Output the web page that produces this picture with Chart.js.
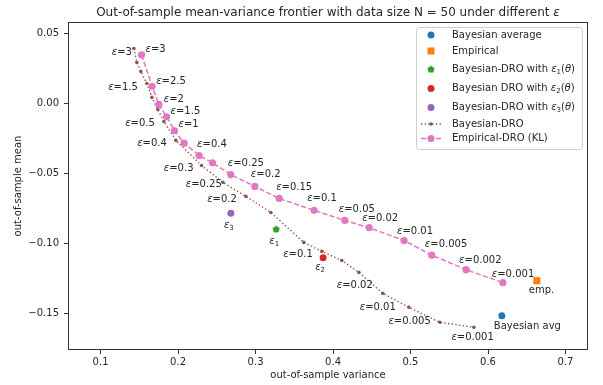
<!DOCTYPE html>
<html>
<head>
<meta charset="utf-8">
<script src="https://cdn.jsdelivr.net/npm/chart.js@4.4.1/dist/chart.umd.min.js"></script>
<style>
  body { margin: 0; background: #fff; }
  #wrap { width: 603px; height: 385px; }
</style>
</head>
<body>
<div id="wrap"><canvas id="myChart" width="603" height="385"></canvas></div>
<script>
// ---- data ----
var xTicks = [0.1, 0.2, 0.3, 0.4, 0.5, 0.6, 0.7];
var yTicks = [-0.15, -0.10, -0.05, 0.00, 0.05];

// Bayesian-DRO curve
var bdroVar = [0.1430, 0.1468, 0.1520, 0.1597, 0.1662, 0.1739, 0.1817, 0.1972, 0.2303, 0.2578,
               0.2875, 0.3197, 0.3623, 0.3856, 0.4113, 0.4333, 0.4642, 0.4978, 0.5378, 0.5817];
var bdroMean = [0.0391, 0.0291, 0.0226, 0.0141, 0.0041, -0.0045, -0.0131, -0.0266, -0.0445, -0.0566,
                -0.0666, -0.0781, -0.0995, -0.1059, -0.1124, -0.1209, -0.1359, -0.1459, -0.1566, -0.1602];
var bdroEps = ['3', null, null, '1.5', null, null, '0.5', '0.4', '0.3', '0.25',
               '0.2', null, null, '0.1', null, null, '0.02', '0.01', '0.005', '0.001'];

// Empirical-DRO (KL) curve
var edroVar = [0.1529, 0.1666, 0.1752, 0.1852, 0.1955, 0.2079, 0.2272, 0.2445, 0.2681,
               0.2991, 0.3305, 0.3756, 0.4152, 0.4466, 0.4916, 0.5275, 0.5717, 0.6191];
var edroMean = [0.0346, 0.0121, -0.0009, -0.0097, -0.0197, -0.0286, -0.0374, -0.0426, -0.0511,
                -0.0595, -0.0681, -0.0766, -0.0838, -0.0890, -0.0982, -0.1086, -0.1190, -0.1283];
var edroEps = ['3', '2.5', '2', '1.5', '1', null, '0.4', null, '0.25',
               '0.2', '0.15', '0.1', '0.05', '0.02', '0.01', '0.005', '0.002', '0.001'];

// single points
var pointNames = ['Bayesian average', 'Empirical', 'Bayesian-DRO with ε_1(θ)',
                  'Bayesian DRO with ε_2(θ)', 'Bayesian-DRO with ε_3(θ)'];
var pointVar = [0.6178, 0.6630, 0.3266, 0.3872, 0.2681];
var pointMean = [-0.1519, -0.1269, -0.0902, -0.1104, -0.0786];
var pointTags = ['Bayesian avg', 'emp.', 'ε_1', 'ε_2', 'ε_3'];

// ---- layout of the annotations (pixel offsets from the point) ----
var bdroTagPos = [[-2, 3.5], null, null, [-9, 3.5], null, null, [-9, 2], [-9, 3], [-8, 3], [-1, 2],
                  [-9, 3], null, null, [-9, 3], null, null, [-10, -8], [-13, 0], [-9, -1], [20, 10]];
var edroTagPos = [[4, -5], [4, -5], [5, -5], [4, -5], [4, -6], null, [-2, -11], null, [-3, -11],
                  [-4, -12], [-3, -11], [-7, -12], [-6, -11], [-7, -9], [-7, -9], [-7, -11], [-7, -9], [-11, -8]];
var pointTagPos = [[-8, 11], [-8, 10], [-2, 12], [-3, 10], [-2, 12]];
var pointTagAlign = ['left', 'left', 'center', 'center', 'center'];

var FONT = '"DejaVu Sans", sans-serif';
var TEXT = '#262626';
var colors = ['#1f77b4', '#ff7f0e', '#2ca02c', '#d62728', '#9467bd'];

function pentagon(r, color) {
  var s = Math.ceil(r * 2 + 2);
  var c = document.createElement('canvas');
  c.width = s; c.height = s;
  var g = c.getContext('2d');
  g.fillStyle = color;
  g.beginPath();
  for (var k = 0; k < 5; k++) {
    var a = -Math.PI / 2 + k * 2 * Math.PI / 5;
    g.lineTo(s / 2 + r * Math.cos(a), s / 2 + r * Math.sin(a));
  }
  g.closePath();
  g.fill();
  return c;
}
var styles = ['circle', 'rect', pentagon(3.8, colors[2]), 'circle', 'circle'];
var radii = [3.5, 5, 4, 3.5, 3.5];

// rich text: ε θ italic, _x subscript
function parseRich(s) {
  var segs = [];
  for (var i = 0; i < s.length; i++) {
    var ch = s[i], st = 'n';
    if (ch === '_') { ch = s[++i]; st = 's'; }
    else if (ch === 'ε' || ch === 'θ') st = 'i';
    var last = segs[segs.length - 1];
    if (last && last.st === st) last.t += ch; else segs.push({ t: ch, st: st });
  }
  return segs;
}
function segFont(st, size) {
  if (st === 'i') return 'italic ' + size + 'px ' + FONT;
  if (st === 's') return (size * 0.7).toFixed(1) + 'px ' + FONT;
  return size + 'px ' + FONT;
}
function drawRich(ctx, s, x, y, align, size, rot) {
  var segs = parseRich(s), w = 0;
  ctx.save();
  ctx.translate(x, y);
  if (rot) ctx.rotate(rot);
  ctx.textBaseline = 'middle';
  ctx.textAlign = 'left';
  ctx.fillStyle = TEXT;
  segs.forEach(function (g) { ctx.font = segFont(g.st, size); g.w = ctx.measureText(g.t).width; w += g.w; });
  var cx = align === 'right' ? -w : align === 'center' ? -w / 2 : 0;
  segs.forEach(function (g) {
    ctx.font = segFont(g.st, size);
    ctx.fillText(g.t, cx, g.st === 's' ? size * 0.28 : 0);
    cx += g.w;
  });
  ctx.restore();
}

var datasets = pointNames.map(function (name, i) {
  return {
    label: name,
    data: [{ x: pointVar[i], y: pointMean[i] }],
    backgroundColor: colors[i],
    borderColor: colors[i],
    pointStyle: styles[i],
    pointRadius: radii[i],
    pointBorderWidth: 0,
    tags: [pointTags[i]],
    tagPos: [pointTagPos[i]],
    tagAlign: pointTagAlign[i]
  };
});
datasets.push({
  label: 'Empirical-DRO (KL)',
  data: edroVar.map(function (v, i) { return { x: v, y: edroMean[i] }; }),
  showLine: true,
  borderColor: '#e377c2',
  backgroundColor: '#e377c2',
  borderWidth: 1.5,
  borderDash: [5.2, 2.3],
  pointRadius: 3.6,
  pointBorderWidth: 0,
  tags: edroEps.map(function (e) { return e && 'ε=' + e; }),
  tagPos: edroTagPos,
  tagAlign: 'left'
});
datasets.push({
  label: 'Bayesian-DRO',
  data: bdroVar.map(function (v, i) { return { x: v, y: bdroMean[i] }; }),
  showLine: true,
  borderColor: '#8c564b',
  backgroundColor: '#8c564b',
  borderWidth: 1.4,
  borderDash: [1.4, 2.3],
  pointRadius: 1.8,
  pointBorderWidth: 0,
  tags: bdroEps.map(function (e) { return e && 'ε=' + e; }),
  tagPos: bdroTagPos,
  tagAlign: 'right'
});

var legendOrder = [0, 1, 2, 3, 4, 6, 5];
var legendRows = [35, 51, 69.5, 88.5, 107.5, 124, 138.5];

var decorations = {
  id: 'decorations',
  afterDatasetsDraw: function (chart) {
    var ctx = chart.ctx;
    chart.data.datasets.forEach(function (ds, i) {
      var meta = chart.getDatasetMeta(i);
      ds.tags.forEach(function (t, j) {
        if (!t) return;
        var el = meta.data[j], off = ds.tagPos[j];
        drawRich(ctx, t, el.x + off[0], el.y + off[1], ds.tagAlign, 10);
      });
    });
  },
  afterDraw: function (chart) {
    var ctx = chart.ctx, a = chart.chartArea;
    // frame
    ctx.save();
    ctx.strokeStyle = '#333';
    ctx.lineWidth = 1;
    ctx.strokeRect(Math.round(a.left) + 0.5, Math.round(a.top) + 0.5,
                   Math.round(a.right - a.left) - 1, Math.round(a.bottom - a.top) - 1);
    ctx.restore();

    var cx = (a.left + a.right) / 2, cy = (a.top + a.bottom) / 2;
    drawRich(ctx, 'Out-of-sample mean-variance frontier with data size N = 50 under different ε', cx, 13, 'center', 12);
    drawRich(ctx, 'out-of-sample variance', cx, 375, 'center', 10);
    drawRich(ctx, 'out-of-sample mean', 18.5, cy, 'center', 10, -Math.PI / 2);

    // legend
    ctx.save();
    ctx.beginPath();
    ctx.roundRect(416.5, 27.5, 166, 122, 3);
    ctx.fillStyle = 'rgba(255,255,255,0.8)';
    ctx.fill();
    ctx.strokeStyle = '#cccccc';
    ctx.lineWidth = 1;
    ctx.stroke();
    legendOrder.forEach(function (di, r) {
      var ds = chart.data.datasets[di], y = legendRows[r], mx = 431;
      if (ds.showLine) {
        ctx.save();
        ctx.strokeStyle = ds.borderColor;
        ctx.lineWidth = ds.borderWidth;
        ctx.setLineDash(ds.borderDash);
        ctx.beginPath();
        ctx.moveTo(421, y);
        ctx.lineTo(441, y);
        ctx.stroke();
        ctx.restore();
      }
      ctx.fillStyle = ds.backgroundColor;
      ctx.strokeStyle = ds.backgroundColor;
      Chart.helpers.drawPoint(ctx, {
        pointStyle: ds.pointStyle || 'circle', rotation: 0,
        radius: ds.pointRadius, borderWidth: 0
      }, mx, y);
      drawRich(ctx, ds.label, 452, y, 'left', 10);
    });
    ctx.restore();
  }
};

var ctx = document.getElementById('myChart').getContext('2d');
var chart = new Chart(ctx, {
  type: 'scatter',
  data: { datasets: datasets },
  plugins: [decorations],
  options: {
    responsive: false,
    animation: false,
    devicePixelRatio: 1,
    layout: { padding: { top: 22, right: 15, bottom: 0, left: 0 } },
    plugins: {
      legend: { display: false },
      title: { display: false },
      tooltip: { enabled: false }
    },
    scales: {
      x: {
        type: 'linear',
        min: 0.058,
        max: 0.729,
        afterBuildTicks: function (s) { s.ticks = xTicks.map(function (v) { return { value: v }; }); },
        afterFit: function (s) { s.height = 35; },
        ticks: {
          font: { family: FONT, size: 10 },
          color: TEXT,
          padding: 2,
          maxRotation: 0,
          callback: function (v) { return v.toFixed(1); }
        },
        grid: { drawOnChartArea: false, drawTicks: true, tickLength: 4, color: '#333' },
        border: { display: false }
      },
      y: {
        type: 'linear',
        min: -0.1764,
        max: 0.058,
        afterBuildTicks: function (s) { s.ticks = yTicks.map(function (v) { return { value: v }; }); },
        afterFit: function (s) { s.width = 68; },
        ticks: {
          font: { family: FONT, size: 10 },
          color: TEXT,
          padding: 5,
          callback: function (v) { return (v < -1e-9 ? '\u2212' : '') + Math.abs(v).toFixed(2); }
        },
        grid: { drawOnChartArea: false, drawTicks: true, tickLength: 4, color: '#333' },
        border: { display: false }
      }
    }
  }
});
</script>
</body>
</html>
